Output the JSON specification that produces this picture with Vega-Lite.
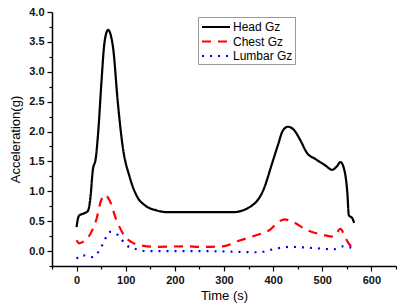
{
  "$schema": "https://vega.github.io/schema/vega-lite/v6.json",
  "autosize": "none",
  "width": 344,
  "height": 254,
  "padding": {"left": 52, "top": 12, "right": 5, "bottom": 41},
  "background": "white",
  "config": {"view": {"stroke": null}, "font": "Liberation Sans"},
  "data": {"values": [
    {"t": 0, "v": 0.4, "s": "Head Gz"},
    {"t": 3, "v": 0.55, "s": "Head Gz"},
    {"t": 6, "v": 0.6, "s": "Head Gz"},
    {"t": 15, "v": 0.63, "s": "Head Gz"},
    {"t": 23, "v": 0.67, "s": "Head Gz"},
    {"t": 28, "v": 0.88, "s": "Head Gz"},
    {"t": 33, "v": 1.35, "s": "Head Gz"},
    {"t": 39, "v": 1.55, "s": "Head Gz"},
    {"t": 45, "v": 2.1, "s": "Head Gz"},
    {"t": 50, "v": 2.75, "s": "Head Gz"},
    {"t": 57, "v": 3.5, "s": "Head Gz"},
    {"t": 64, "v": 3.7, "s": "Head Gz"},
    {"t": 74, "v": 3.42, "s": "Head Gz"},
    {"t": 84, "v": 2.48, "s": "Head Gz"},
    {"t": 94, "v": 1.74, "s": "Head Gz"},
    {"t": 108, "v": 1.24, "s": "Head Gz"},
    {"t": 124, "v": 0.9, "s": "Head Gz"},
    {"t": 140, "v": 0.76, "s": "Head Gz"},
    {"t": 163, "v": 0.68, "s": "Head Gz"},
    {"t": 185, "v": 0.65, "s": "Head Gz"},
    {"t": 250, "v": 0.65, "s": "Head Gz"},
    {"t": 318, "v": 0.65, "s": "Head Gz"},
    {"t": 353, "v": 0.74, "s": "Head Gz"},
    {"t": 380, "v": 1.02, "s": "Head Gz"},
    {"t": 398, "v": 1.47, "s": "Head Gz"},
    {"t": 410, "v": 1.78, "s": "Head Gz"},
    {"t": 420, "v": 2.02, "s": "Head Gz"},
    {"t": 430, "v": 2.08, "s": "Head Gz"},
    {"t": 443, "v": 2.02, "s": "Head Gz"},
    {"t": 455, "v": 1.86, "s": "Head Gz"},
    {"t": 469, "v": 1.64, "s": "Head Gz"},
    {"t": 486, "v": 1.54, "s": "Head Gz"},
    {"t": 505, "v": 1.44, "s": "Head Gz"},
    {"t": 520, "v": 1.36, "s": "Head Gz"},
    {"t": 530, "v": 1.42, "s": "Head Gz"},
    {"t": 537, "v": 1.49, "s": "Head Gz"},
    {"t": 543, "v": 1.41, "s": "Head Gz"},
    {"t": 551, "v": 0.97, "s": "Head Gz"},
    {"t": 554, "v": 0.6, "s": "Head Gz"},
    {"t": 561, "v": 0.55, "s": "Head Gz"},
    {"t": 565, "v": 0.47, "s": "Head Gz"},

    {"t": 0, "v": 0.18, "s": "Chest Gz"},
    {"t": 5, "v": 0.13, "s": "Chest Gz"},
    {"t": 12, "v": 0.15, "s": "Chest Gz"},
    {"t": 23, "v": 0.22, "s": "Chest Gz"},
    {"t": 32, "v": 0.35, "s": "Chest Gz"},
    {"t": 40, "v": 0.52, "s": "Chest Gz"},
    {"t": 50, "v": 0.85, "s": "Chest Gz"},
    {"t": 58, "v": 0.94, "s": "Chest Gz"},
    {"t": 67, "v": 0.85, "s": "Chest Gz"},
    {"t": 81, "v": 0.52, "s": "Chest Gz"},
    {"t": 98, "v": 0.25, "s": "Chest Gz"},
    {"t": 112, "v": 0.15, "s": "Chest Gz"},
    {"t": 128, "v": 0.1, "s": "Chest Gz"},
    {"t": 163, "v": 0.07, "s": "Chest Gz"},
    {"t": 224, "v": 0.08, "s": "Chest Gz"},
    {"t": 251, "v": 0.07, "s": "Chest Gz"},
    {"t": 298, "v": 0.08, "s": "Chest Gz"},
    {"t": 333, "v": 0.18, "s": "Chest Gz"},
    {"t": 367, "v": 0.27, "s": "Chest Gz"},
    {"t": 394, "v": 0.36, "s": "Chest Gz"},
    {"t": 410, "v": 0.48, "s": "Chest Gz"},
    {"t": 423, "v": 0.53, "s": "Chest Gz"},
    {"t": 437, "v": 0.5, "s": "Chest Gz"},
    {"t": 469, "v": 0.35, "s": "Chest Gz"},
    {"t": 502, "v": 0.27, "s": "Chest Gz"},
    {"t": 523, "v": 0.24, "s": "Chest Gz"},
    {"t": 537, "v": 0.37, "s": "Chest Gz"},
    {"t": 547, "v": 0.22, "s": "Chest Gz"},
    {"t": 556, "v": 0.1, "s": "Chest Gz"},
    {"t": 564, "v": 0.05, "s": "Chest Gz"},

    {"t": 0, "v": -0.13, "s": "Lumbar Gz"},
    {"t": 10, "v": -0.07, "s": "Lumbar Gz"},
    {"t": 22, "v": -0.08, "s": "Lumbar Gz"},
    {"t": 33, "v": -0.1, "s": "Lumbar Gz"},
    {"t": 47, "v": 0.02, "s": "Lumbar Gz"},
    {"t": 57, "v": 0.18, "s": "Lumbar Gz"},
    {"t": 67, "v": 0.32, "s": "Lumbar Gz"},
    {"t": 84, "v": 0.27, "s": "Lumbar Gz"},
    {"t": 101, "v": 0.1, "s": "Lumbar Gz"},
    {"t": 122, "v": 0.03, "s": "Lumbar Gz"},
    {"t": 142, "v": 0.0, "s": "Lumbar Gz"},
    {"t": 250, "v": 0.0, "s": "Lumbar Gz"},
    {"t": 373, "v": -0.02, "s": "Lumbar Gz"},
    {"t": 394, "v": 0.02, "s": "Lumbar Gz"},
    {"t": 435, "v": 0.07, "s": "Lumbar Gz"},
    {"t": 482, "v": 0.05, "s": "Lumbar Gz"},
    {"t": 523, "v": 0.03, "s": "Lumbar Gz"},
    {"t": 543, "v": 0.08, "s": "Lumbar Gz"},
    {"t": 561, "v": 0.05, "s": "Lumbar Gz"}
  ]},
  "mark": {"type": "line", "interpolate": "monotone", "strokeWidth": 2.2, "strokeCap": "butt", "clip": true},
  "encoding": {
    "x": {
      "field": "t", "type": "quantitative",
      "scale": {"domain": [-50, 650], "nice": false, "zero": false},
      "axis": {
        "title": "Time (s)", "titleFontSize": 13, "titleFontWeight": "normal", "titleColor": "black", "titlePadding": 4,
        "values": [-50, 0, 50, 100, 150, 200, 250, 300, 350, 400, 450, 500, 550, 600, 650],
        "labelExpr": "datum.value % 100 === 0 ? datum.label : ''",
        "format": "d",
        "tickSize": {"condition": {"test": "datum.value % 100 === 0", "value": 5}, "value": 3},
        "tickColor": "black", "tickWidth": 1.2, "domainColor": "black", "domainWidth": 1.5,
        "labelFontSize": 11, "labelFontWeight": "bold", "labelColor": "#111111", "labelPadding": 3, "grid": false, "labelFlush": false
      }
    },
    "y": {
      "field": "v", "type": "quantitative",
      "scale": {"domain": [-0.25, 4.0], "nice": false, "zero": false},
      "axis": {
        "title": "Acceleration(g)", "titleFontSize": 13, "titleFontWeight": "normal", "titleColor": "black", "titlePadding": 6,
        "values": [-0.25, 0, 0.25, 0.5, 0.75, 1, 1.25, 1.5, 1.75, 2, 2.25, 2.5, 2.75, 3, 3.25, 3.5, 3.75, 4],
        "labelExpr": "(datum.value * 2) % 1 === 0 ? format(datum.value, '.1f') : ''",
        "tickSize": {"condition": {"test": "(datum.value * 2) % 1 === 0", "value": 5}, "value": 3},
        "tickColor": "black", "tickWidth": 1.2, "domainColor": "black", "domainWidth": 1.5,
        "labelFontSize": 11, "labelFontWeight": "bold", "labelColor": "#111111", "labelPadding": 3, "grid": false, "labelFlush": false
      }
    },
    "color": {
      "field": "s", "type": "nominal",
      "scale": {"domain": ["Head Gz", "Chest Gz", "Lumbar Gz"], "range": ["#000000", "#ff0000", "#0000ff"]},
      "legend": {
        "title": null, "orient": "none", "legendX": 146, "legendY": 5,
        "symbolType": "M-2,0H2", "symbolSize": 196, "symbolStrokeWidth": 2,
        "symbolOffset": 8, "labelOffset": 9,
        "labelFontSize": 12, "labelColor": "black",
        "strokeColor": "#999999", "padding": 2, "rowPadding": 0.5, "fillColor": "white"
      }
    },
    "strokeDash": {
      "field": "s", "type": "nominal",
      "scale": {"domain": ["Head Gz", "Chest Gz", "Lumbar Gz"], "range": [[1, 0], [9, 7], [2, 6]]},
      "legend": null
    }
  }
}
